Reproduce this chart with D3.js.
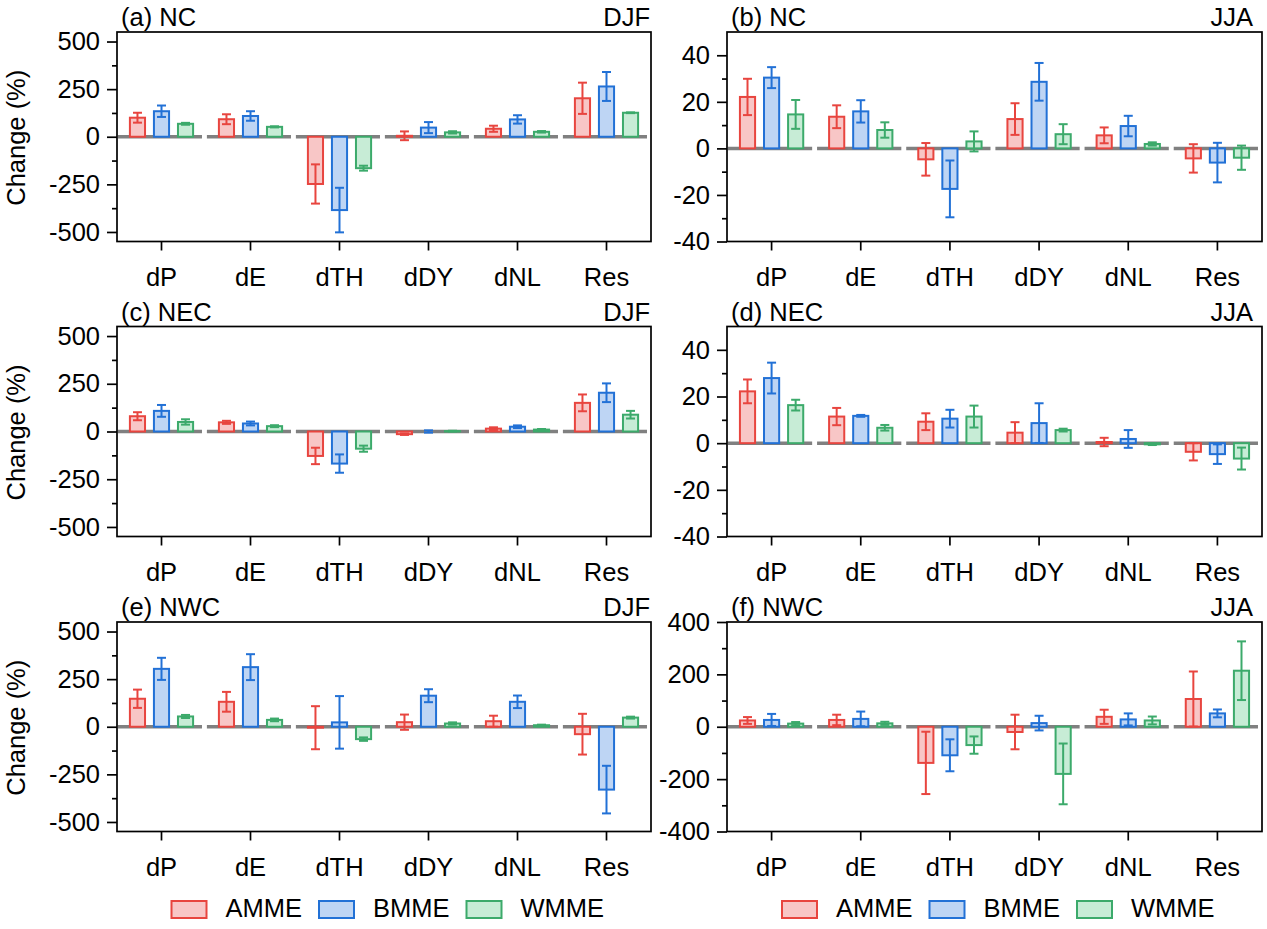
<!DOCTYPE html>
<html><head><meta charset="utf-8">
<script src="https://cdn.jsdelivr.net/npm/d3@7"></script>
<style>
body{margin:0;background:#fff;}
svg text{font-family:"Liberation Sans",Arial,Helvetica,sans-serif;fill:#000;}
</style>
</head><body>
<svg id="chart" width="1267" height="929"></svg>
<script>
// ---------------- DATA ----------------
const categories = ["dP", "dE", "dTH", "dDY", "dNL", "Res"];
const models = ["AMME", "BMME", "WMME"];

const ticksDJF = [-500, -250, 0, 250, 500];
const ticksJJA = [-40, -20, 0, 20, 40];
const ticksNwcJJA = [-400, -200, 0, 200, 400];

// (a) NC DJF  rows: AMME, BMME, WMME
const ncDjfMean = [
  [100, 92, -248, 5, 42, 202],
  [134, 109, -385, 48, 91, 264],
  [68, 52, -165, 23, 26, 126]
];
const ncDjfErr = [
  [26, 26, 103, 23, 16, 82],
  [30, 25, 117, 29, 22, 76],
  [5, 3, 13, 6, 4, 2]
];
// (b) NC JJA
const ncJjaMean = [
  [22.1, 13.6, -4.7, 12.6, 5.6, -4.3],
  [30.4, 15.9, -17.4, 28.6, 9.6, -6.1],
  [14.6, 7.9, 3.0, 6.1, 1.9, -4.0]
];
const ncJjaErr = [
  [7.8, 4.9, 7.0, 6.8, 3.4, 6.1],
  [4.5, 4.8, 12.2, 8.1, 4.4, 8.5],
  [6.2, 3.3, 4.3, 4.3, 0.7, 5.2]
];
// (c) NEC DJF
const necDjfMean = [
  [80, 48, -128, -14, 15, 150],
  [108, 42, -168, 0, 25, 203],
  [50, 28, -90, 2, 10, 88]
];
const necDjfErr = [
  [21, 8, 43, 4, 7, 44],
  [31, 10, 48, 6, 7, 49],
  [14, 5, 16, 2, 3, 20]
];
// (d) NEC JJA
const necJjaMean = [
  [22.2, 11.4, 9.2, 4.5, 0.5, -3.7],
  [27.9, 11.7, 10.5, 8.6, 1.8, -4.7],
  [16.3, 6.6, 11.4, 5.6, -0.5, -6.6]
];
const necJjaErr = [
  [5.1, 3.7, 3.6, 4.5, 1.8, 3.7],
  [6.6, 0.4, 3.8, 8.5, 3.8, 4.2],
  [2.3, 1.2, 4.7, 0.6, 0.3, 4.7]
];
// (e) NWC DJF
const nwcDjfMean = [
  [147, 131, -5, 24, 29, -39],
  [304, 313, 23, 163, 131, -330],
  [54, 36, -65, 17, 8, 48]
];
const nwcDjfErr = [
  [48, 52, 113, 40, 29, 107],
  [58, 68, 138, 34, 33, 125],
  [8, 7, 9, 6, 3, 5]
];
// (f) NWC JJA
const nwcJjaMean = [
  [24, 26, -138, -20, 38, 106],
  [26, 30, -109, 14, 28, 51],
  [12, 13, -70, -180, 24, 214]
];
const nwcJjaErr = [
  [13, 20, 119, 66, 27, 105],
  [23, 28, 61, 28, 23, 15],
  [6, 6, 33, 116, 15, 112]
];

// ---------------- LAYOUT / STYLE ----------------
const strokes = ["#e8453f", "#2271d6", "#3caa6b"];
const fills = ["#f8c6c6", "#bed5f4", "#c7ecd6"];
const FS = 25.5;

const panels = [
  {label: "(a) NC",  season: "DJF", col: 0, row: 0, domain: [-550, 550], ticks: ticksDJF, mean: ncDjfMean, err: ncDjfErr},
  {label: "(b) NC",  season: "JJA", col: 1, row: 0, domain: [-40, 50],   ticks: ticksJJA, mean: ncJjaMean, err: ncJjaErr},
  {label: "(c) NEC", season: "DJF", col: 0, row: 1, domain: [-550, 550], ticks: ticksDJF, mean: necDjfMean, err: necDjfErr},
  {label: "(d) NEC", season: "JJA", col: 1, row: 1, domain: [-40, 50],   ticks: ticksJJA, mean: necJjaMean, err: necJjaErr},
  {label: "(e) NWC", season: "DJF", col: 0, row: 2, domain: [-550, 550], ticks: ticksDJF, mean: nwcDjfMean, err: nwcDjfErr},
  {label: "(f) NWC", season: "JJA", col: 1, row: 2, domain: [-400, 400], ticks: ticksNwcJJA, mean: nwcJjaMean, err: nwcJjaErr}
];

const colX = [[117, 651], [727, 1262]];
const rowY = [[32, 241.5], [326.5, 536.5], [622, 831.5]];
const seasonInset = [1, 9];

const svg = d3.select("#chart");

panels.forEach(p => {
  const [x0, x1] = colX[p.col];
  const [y0, y1] = rowY[p.row];
  const x = d3.scaleBand().domain(categories).range([x0, x1]);
  const bw = x.bandwidth();
  const sub = d3.scalePoint().domain(models).range([-0.27 * bw, 0.27 * bw]);
  const barW = 0.17 * bw;
  const y = d3.scaleLinear().domain(p.domain).range([y1, y0]);
  const g = svg.append("g");

  // zero line segments per category
  g.selectAll("line.zero").data(categories).join("line")
    .attr("class", "zero")
    .attr("x1", c => x(c) + 0.01 * bw)
    .attr("x2", c => x(c) + 0.955 * bw)
    .attr("y1", y(0)).attr("y2", y(0))
    .attr("stroke", "#808080").attr("stroke-width", 3.5);

  models.forEach((m, mi) => {
    const mean = p.mean[mi], err = p.err[mi];
    const data = categories.map((c, i) => ({c, v: mean[i], e: err[i]}));
    const cx = d => x(d.c) + bw / 2 + sub(m);
    g.selectAll(null).data(data).join("rect")
      .attr("x", d => cx(d) - barW / 2)
      .attr("y", d => y(Math.max(0, d.v)))
      .attr("width", barW)
      .attr("height", d => Math.abs(y(d.v) - y(0)))
      .attr("fill", fills[mi]).attr("stroke", strokes[mi]).attr("stroke-width", 2);
    const eb = g.selectAll(null).data(data).join("g")
      .attr("stroke", strokes[mi]).attr("stroke-width", 2).attr("fill", "none");
    eb.append("line")
      .attr("x1", cx).attr("x2", cx)
      .attr("y1", d => y(d.v - d.e)).attr("y2", d => y(d.v + d.e));
    eb.append("line")
      .attr("x1", d => cx(d) - 4.5).attr("x2", d => cx(d) + 4.5)
      .attr("y1", d => y(d.v + d.e)).attr("y2", d => y(d.v + d.e));
    eb.append("line")
      .attr("x1", d => cx(d) - 4.5).attr("x2", d => cx(d) + 4.5)
      .attr("y1", d => y(d.v - d.e)).attr("y2", d => y(d.v - d.e));
  });

  // frame
  g.append("rect").attr("x", x0).attr("y", y0).attr("width", x1 - x0).attr("height", y1 - y0)
    .attr("fill", "none").attr("stroke", "#000").attr("stroke-width", 1.7);

  // y axis major
  const ya = g.append("g").attr("transform", `translate(${x0},0)`)
    .call(d3.axisLeft(y).tickValues(p.ticks).tickSize(10).tickPadding(7).tickFormat(d => String(d)));
  ya.select(".domain").remove();
  ya.selectAll("line").attr("stroke", "#000").attr("stroke-width", 1.7);
  ya.selectAll("text").attr("font-size", FS).attr("fill", "#000");
  ya.attr("font-family", null).attr("font-size", null);
  // y axis minor
  const minor = d3.pairs(p.ticks).map(([a, b]) => (a + b) / 2);
  const ym = g.append("g").attr("transform", `translate(${x0},0)`)
    .call(d3.axisLeft(y).tickValues(minor).tickSize(5).tickFormat(""));
  ym.select(".domain").remove();
  ym.selectAll("line").attr("stroke", "#000").attr("stroke-width", 1.7);

  // x axis
  const xa = g.append("g").attr("transform", `translate(0,${y1})`)
    .call(d3.axisBottom(x).tickSize(9).tickPadding(17));
  xa.select(".domain").remove();
  xa.selectAll("line").attr("stroke", "#000").attr("stroke-width", 1.7);
  xa.selectAll("text").attr("font-size", FS).attr("fill", "#000");
  xa.attr("font-family", null).attr("font-size", null);

  // titles
  g.append("text").attr("x", x0 + 4).attr("y", y0 - 6).attr("font-size", FS).text(p.label);
  g.append("text").attr("x", x1 - seasonInset[p.col]).attr("y", y0 - 6)
    .attr("text-anchor", "end").attr("font-size", FS).text(p.season);

  if (p.col === 0) {
    const cy = (y0 + y1) / 2 + 1;
    g.append("text").attr("transform", `translate(25,${cy}) rotate(-90)`)
      .attr("text-anchor", "middle").attr("font-size", FS).text("Change (%)");
  }
});

// legends
colX.forEach(([x0, x1]) => {
  const center = (x0 + x1) / 2;
  const lx = d3.scalePoint().domain(models).range([center - 212.5, center - 212.5 + 295]);
  const lg = svg.append("g");
  models.forEach((m, mi) => {
    lg.append("rect").attr("x", lx(m)).attr("y", 901).attr("width", 35).attr("height", 17)
      .attr("fill", fills[mi]).attr("stroke", strokes[mi]).attr("stroke-width", 2);
    lg.append("text").attr("x", lx(m) + 54).attr("y", 917).attr("font-size", FS).text(m);
  });
});
</script>
</body></html>
